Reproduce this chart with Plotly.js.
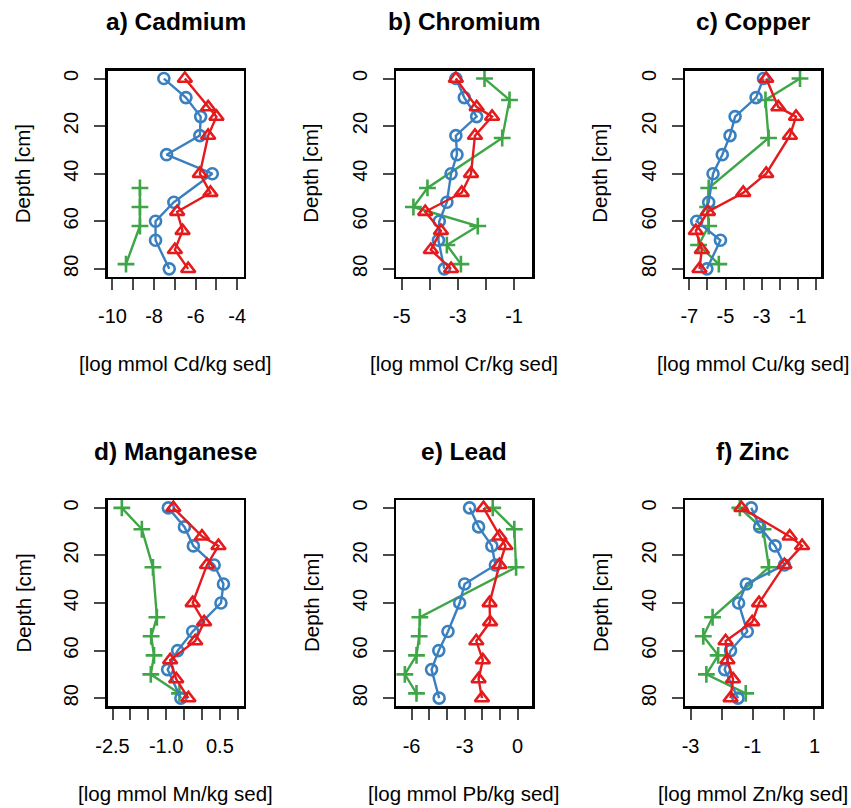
<!DOCTYPE html>
<html>
<head>
<meta charset="utf-8">
<script src="https://cdn.plot.ly/plotly-3.0.1.min.js"></script>
<style>
  html, body { margin: 0; padding: 0; background: #ffffff; }
  #chart { width: 851px; height: 808px; }
</style>
</head>
<body>
<div id="chart"></div>
<script>
// Sampling depths (cm) for each of the three profiles
const depthCircle   = [0, 8, 16, 24, 32, 40, 52, 60, 68, 80];
const depthTriangle = [0, 12, 16, 24, 40, 48, 56, 64, 72, 80];
const depthPlus     = [0, 9, 25, 46, 54, 62, 70, 78];

// log concentrations [log mmol X / kg sed]
const cdCircle   = [-7.53, -6.47, -5.76, -5.80, -7.40, -5.20, -7.05, -7.93, -7.93, -7.27];
const cdTriangle = [-6.52, -5.40, -5.00, -5.40, -5.80, -5.29, -6.89, -6.63, -7.00, -6.36];
const cdPlus     = [null, null, null, -8.68, -8.68, -8.68, null, -9.35];

const crCircle   = [-3.07, -2.77, -2.33, -3.07, -3.03, -3.24, -3.39, -3.66, -3.69, -3.48];
const crTriangle = [-3.07, -2.33, -1.78, -2.39, -2.53, -2.86, -4.16, -3.60, -3.96, -3.24];
const crPlus     = [-2.05, -1.16, -1.42, -4.08, -4.58, -2.29, -3.39, -2.89];

const cuCircle   = [-2.90, -3.31, -4.47, -4.75, -5.18, -5.69, -5.93, -6.59, -5.28, -6.03];
const cuTriangle = [-2.75, -2.08, -1.10, -1.44, -2.75, -4.02, -5.97, -6.64, -6.31, -6.44];
const cuPlus     = [-0.88, -2.79, -2.62, -5.93, -5.99, -5.93, -6.49, -5.37];

const mnCircle   = [-0.94, -0.49, -0.24, 0.34, 0.60, 0.53, -0.26, -0.68, -0.96, -0.59];
const mnTriangle = [-0.80, 0.00, 0.46, 0.14, -0.26, 0.06, -0.19, -0.89, -0.72, -0.38];
const mnPlus     = [-2.24, -1.68, -1.37, -1.26, -1.42, -1.34, -1.43, -0.63];

const pbCircle   = [-2.72, -2.21, -1.46, -1.26, -3.00, -3.28, -3.94, -4.46, -4.87, -4.44];
const pbTriangle = [-1.93, -1.03, -0.69, -1.03, -1.59, -1.56, -2.34, -1.97, -2.21, -2.02];
const pbPlus     = [-1.41, -0.19, -0.09, -5.53, -5.57, -5.72, -6.38, -5.72];

const znCircle   = [-1.04, -0.77, -0.27, 0.03, -1.20, -1.45, -1.17, -1.71, -1.90, -1.47];
const znTriangle = [-1.36, 0.20, 0.60, 0.03, -0.79, -1.01, -1.87, -1.81, -1.63, -1.71];
const znPlus     = [-1.41, -0.66, -0.47, -2.29, -2.59, -2.11, -2.49, -1.22];

// Panel titles and axis labels
const panelTitles = ['a) Cadmium', 'b) Chromium', 'c) Copper', 'd) Manganese', 'e) Lead', 'f) Zinc'];
const unitLabels = [
  '[log mmol Cd/kg sed]', '[log mmol Cr/kg sed]', '[log mmol Cu/kg sed]',
  '[log mmol Mn/kg sed]', '[log mmol Pb/kg sed]', '[log mmol Zn/kg sed]'
];
const depthTicks = [0, 20, 40, 60, 80];
const depthTickText = ['0', '20', '40', '60', '80'];

// x tick positions and the labels shown under them
const xTickVals = [
  [-10, -9, -8, -7, -6, -5, -4],
  [-5, -4, -3, -2, -1],
  [-7, -6, -5, -4, -3, -2, -1, 0],
  [-2.5, -2.0, -1.5, -1.0, -0.5, 0.0, 0.5, 1.0],
  [-6, -5, -4, -3, -2, -1, 0],
  [-3, -2, -1, 0, 1]
];
const xTickText = [
  ['-10', '', '-8', '', '-6', '', '-4'],
  ['-5', '', '-3', '', '-1'],
  ['-7', '', '-5', '', '-3', '', '-1', ''],
  ['-2.5', '', '', '-1.0', '', '', '0.5', ''],
  ['-6', '', '', '-3', '', '', '0'],
  ['-3', '', '-1', '', '1']
];
const xRanges = [
  [-10.24, -3.70],
  [-5.20, -0.36],
  [-7.24, 0.28],
  [-2.64, 1.16],
  [-6.88, 0.81],
  [-3.18, 1.21]
];

const circleSeries   = [cdCircle, crCircle, cuCircle, mnCircle, pbCircle, znCircle];
const triangleSeries = [cdTriangle, crTriangle, cuTriangle, mnTriangle, pbTriangle, znTriangle];
const plusSeries     = [cdPlus, crPlus, cuPlus, mnPlus, pbPlus, znPlus];

const BLUE = '#3A80C0', RED = '#E41A1C', GREEN = '#3FA648';
const FONT = 'Liberation Sans, Arial, Helvetica, sans-serif';

// Page geometry (px)
const W = 851, H = 808;
const colLeft = [107.5, 396, 685];
const rowTop = [70.7, 500];
const boxW = 136, boxH = 206;

const traces = [];
const layout = {
  width: W, height: H,
  margin: { l: 0, r: 0, t: 0, b: 0 },
  paper_bgcolor: '#ffffff',
  plot_bgcolor: '#ffffff',
  showlegend: false,
  annotations: []
};

for (let i = 0; i < 6; i++) {
  const n = i === 0 ? '' : String(i + 1);
  const col = i % 3, row = Math.floor(i / 3);
  const x0 = colLeft[col], x1 = x0 + boxW;
  const yTop = rowTop[row], yBot = yTop + boxH;

  const common = { type: 'scatter', mode: 'lines+markers', xaxis: 'x' + n, yaxis: 'y' + n,
                   hoverinfo: 'x+y', cliponaxis: false };

  traces.push(Object.assign({}, common, {
    x: plusSeries[i], y: depthPlus, connectgaps: true,
    line: { color: GREEN, width: 2.4 },
    marker: { symbol: 'cross-thin-open', size: 12, color: GREEN, line: { color: GREEN, width: 2.6 } }
  }));
  traces.push(Object.assign({}, common, {
    x: circleSeries[i], y: depthCircle,
    line: { color: BLUE, width: 2.4 },
    marker: { symbol: 'circle-open', size: 11, color: BLUE, line: { color: BLUE, width: 2.6 } }
  }));
  traces.push(Object.assign({}, common, {
    x: triangleSeries[i], y: depthTriangle,
    line: { color: RED, width: 2.4 },
    marker: { symbol: 'triangle-up-open', size: 12.5, color: RED, line: { color: RED, width: 2.6 } }
  }));

  const axisStyle = {
    showline: true, mirror: true, linecolor: '#000', linewidth: 2.5,
    showgrid: false, zeroline: false,
    ticks: 'outside', ticklen: 11, tickwidth: 2, tickcolor: '#4a4a4a',
    tickfont: { family: FONT, size: 20, color: '#000' },
    fixedrange: true
  };

  layout['xaxis' + n] = Object.assign({}, axisStyle, {
    domain: [x0 / W, x1 / W],
    anchor: 'y' + n,
    range: xRanges[i],
    tickmode: 'array', tickvals: xTickVals[i], ticktext: xTickText[i],
    ticklabelstandoff: 9
  });
  layout['yaxis' + n] = Object.assign({}, axisStyle, {
    domain: [1 - yBot / H, 1 - yTop / H],
    anchor: 'x' + n,
    range: [83.3, -3.3],
    tickmode: 'array', tickvals: depthTicks, ticktext: depthTickText,
    tickangle: -90,
    ticklabelstandoff: 8
  });

  const cx = (x0 + x1) / 2 / W;
  layout.annotations.push({
    xref: 'paper', yref: 'paper', x: cx, y: 1 - (yTop - 49) / H,
    text: '<b>' + panelTitles[i] + '</b>', showarrow: false,
    xanchor: 'center', yanchor: 'middle',
    font: { family: FONT, size: 24.5, color: '#000' }
  });
  layout.annotations.push({
    xref: 'paper', yref: 'paper', x: cx, y: 1 - (yBot + 87) / H,
    text: unitLabels[i], showarrow: false,
    xanchor: 'center', yanchor: 'middle',
    font: { family: FONT, size: 20.5, color: '#000' }
  });
  layout.annotations.push({
    xref: 'paper', yref: 'paper', x: (x0 - 85) / W, y: 1 - (yTop + boxH / 2) / H,
    text: 'Depth [cm]', showarrow: false, textangle: -90,
    xanchor: 'center', yanchor: 'middle',
    font: { family: FONT, size: 20.5, color: '#000' }
  });
}

Plotly.newPlot('chart', traces, layout, { staticPlot: true, displayModeBar: false });
</script>
</body>
</html>
